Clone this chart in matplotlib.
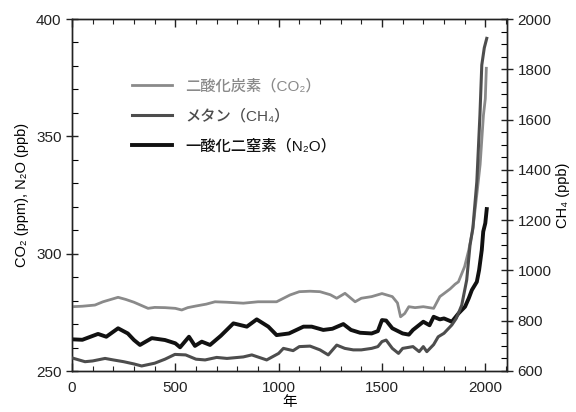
import matplotlib
matplotlib.use("Agg")
import matplotlib.pyplot as plt
from matplotlib.ticker import MultipleLocator

plt.rcParams['font.family'] = ['Liberation Sans', 'Noto Sans CJK JP', 'DejaVu Sans']

# ---- data ----
co2_years = [0, 50, 111, 150, 223, 260, 300, 368, 400, 450, 500, 531, 560, 600, 650, 692,
             750, 829, 900, 990, 1055, 1100, 1152, 1200, 1250, 1281, 1321, 1370, 1400, 1450,
             1500, 1550, 1575, 1590, 1610, 1630, 1660, 1700, 1750, 1780, 1800, 1830, 1854,
             1870, 1900, 1920, 1939, 1960, 1975, 1991, 2000, 2005]
co2_vals = [277.4, 277.6, 278.1, 279.5, 281.4, 280.5, 279.3, 276.7, 277.1, 277.0, 276.7, 276.0,
            277.0, 277.7, 278.5, 279.5, 279.3, 278.9, 279.5, 279.5, 282.4, 283.8, 284.0, 283.8,
            282.5, 281.0, 283.1, 279.5, 281.0, 281.7, 283.0, 281.7, 279.0, 273.1, 274.5, 277.4,
            277.0, 277.4, 276.7, 281.7, 283.0, 285.0, 287.0, 288.0, 294.5, 301.6, 310.0, 326.0,
            338.0, 359.0, 366.0, 379.0]

ch4_years = [0, 63, 100, 160, 200, 250, 300, 337, 400, 450, 498, 550, 600, 644, 700, 750,
             829, 870, 942, 1000, 1023, 1070, 1100, 1152, 1200, 1240, 1281, 1320, 1361, 1400,
             1450, 1480, 1500, 1520, 1550, 1580, 1600, 1650, 1680, 1700, 1717, 1750, 1772,
             1800, 1838, 1860, 1886, 1910, 1926, 1940, 1959, 1974, 1983, 1995, 2007]
ch4_vals = [652, 637, 640, 650, 644, 637, 628, 620, 631, 647, 666, 664, 647, 644, 654, 650,
            656, 664, 644, 670, 690, 681, 697, 699, 684, 664, 703, 690, 684, 684,
            690, 697, 717, 723, 690, 670, 690, 697, 677, 697, 677, 705, 736,
            750, 783, 810, 862, 962, 1100, 1170, 1353, 1618, 1817, 1885, 1923]

n2o_years = [0, 50, 126, 166, 223, 270, 300, 329, 386, 450, 500, 523, 566, 595, 628, 668,
             720, 781, 846, 894, 950, 990, 1050, 1120, 1160, 1216, 1260, 1313, 1350, 1394,
             1450, 1480, 1500, 1520, 1550, 1600, 1630, 1650, 1700, 1730, 1750, 1780, 1800,
             1838, 1870, 1902, 1920, 1935, 1959, 1970, 1983, 1990, 2000, 2007]
n2o_vals = [263.5, 263.3, 265.8, 264.6, 268.2, 266.0, 263.2, 261.1, 264.0, 263.2, 261.8, 260.1,
            264.6, 260.7, 262.5, 261.1, 265.0, 270.3, 268.9, 272.0, 268.9, 265.3, 266.0, 268.9,
            268.9, 267.5, 268.0, 270.0, 267.5, 266.3, 266.0, 267.0, 271.7, 271.5, 268.2, 266.0,
            265.5, 267.5, 271.0, 269.5, 273.1, 272.0, 272.4, 271.0, 274.5, 277.4, 281.0, 284.5,
            288.0, 293.0, 301.6, 309.4, 313.0, 319.0]

labels = ['二酸化炭素（CO₂）', 'メタン（CH₄）', '一酸化二窒素（N₂O）']
colors = ['#8a8a8a', '#4d4d4d', '#111111']
xlabel = '年'
ylabel_left = 'CO₂ (ppm), N₂O (ppb)'
ylabel_right = 'CH₄ (ppb)'

fig = plt.figure(figsize=(5.76, 4.12), dpi=100)
ax = fig.add_axes([72/576, 1-371/412, (507-72)/576, (371-19)/412])
ax2 = ax.twinx()

l1, = ax.plot(co2_years, co2_vals, color=colors[0], lw=2.0, zorder=3)
l3, = ax.plot(n2o_years, n2o_vals, color=colors[2], lw=2.8, zorder=4)
l2, = ax2.plot(ch4_years, ch4_vals, color=colors[1], lw=2.2, zorder=3)

ax.set_xlim(0, 2105)
ax.set_ylim(250, 400)
ax2.set_ylim(600, 2000)

ax.xaxis.set_major_locator(MultipleLocator(500))
ax.xaxis.set_minor_locator(MultipleLocator(100))
ax.yaxis.set_major_locator(MultipleLocator(50))
ax.yaxis.set_minor_locator(MultipleLocator(10))
ax2.yaxis.set_major_locator(MultipleLocator(200))
ax2.yaxis.set_minor_locator(MultipleLocator(50))

ax.tick_params(axis='x', which='both', direction='in', top=True, labelsize=11,
               colors='#222222', pad=7)
ax.tick_params(axis='x', which='major', length=6, width=1)
ax.tick_params(axis='x', which='minor', length=3.5, width=0.8)
ax.tick_params(axis='y', which='major', direction='inout', length=8, width=1,
               labelsize=11, colors='#222222')
ax.tick_params(axis='y', which='minor', direction='in', length=4, width=0.8)
ax2.tick_params(axis='y', which='major', direction='inout', length=8, width=1,
                labelsize=11, colors='#222222')
ax2.tick_params(axis='y', which='minor', direction='in', length=4, width=0.8)

for a in (ax, ax2):
    for s in a.spines.values():
        s.set_color('#222222')
        s.set_linewidth(1.0)

ax.set_xlabel(xlabel, fontsize=10.5, labelpad=0)
ax.set_ylabel(ylabel_left, fontsize=10.5, labelpad=5)
ax2.set_ylabel(ylabel_right, fontsize=10.5, labelpad=3)

leg = fig.legend([l1, l2, l3], labels, loc='upper left',
                 bbox_to_anchor=(132/576, 1-79/412), bbox_transform=fig.transFigure,
                 frameon=False, prop={'size': 11, 'weight': 'medium'},
                 handlelength=2.6, handletextpad=0.9,
                 labelspacing=1.0, borderpad=0, borderaxespad=0,
                 labelcolor=colors)

fig.savefig('out.png', dpi=100)
